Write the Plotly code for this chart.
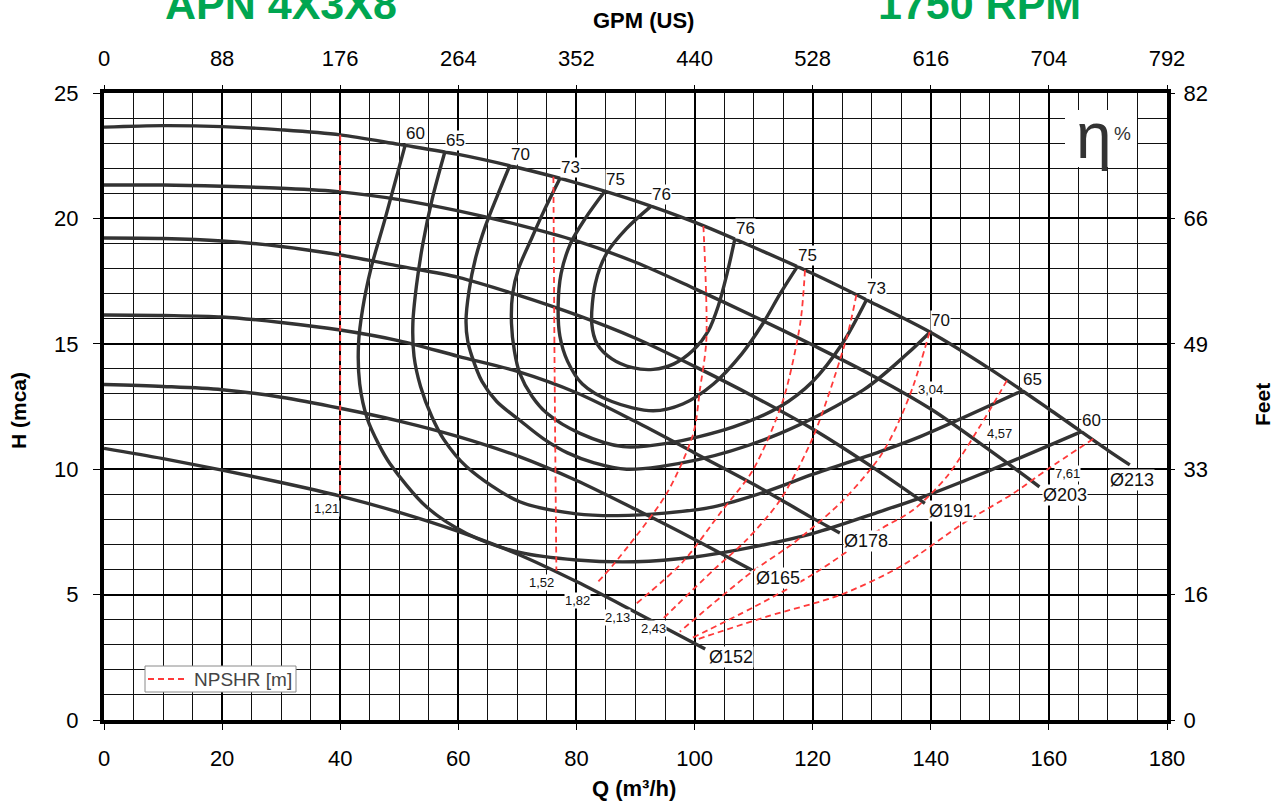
import plotly.graph_objects as go

# ---------------- data ----------------
Q_TICKS = [0, 20, 40, 60, 80, 100, 120, 140, 160, 180]
GPM_TICKTEXT = ["0", "88", "176", "264", "352", "440", "528", "616", "704", "792"]
H_TICKS = [0, 5, 10, 15, 20, 25]
FEET_TICKTEXT = ["0", "16", "33", "49", "66", "82"]

# impeller diameter curves (Q m3/h, H m)
D_NAMES = ["Ø213", "Ø203", "Ø191", "Ø178", "Ø165", "Ø152"]
Q_D213 = [0, 10, 20, 30, 40, 50, 60, 70, 80, 90, 100, 110, 120, 130, 140, 150, 160, 170, 173.7]
H_D213 = [23.64, 23.70, 23.66, 23.53, 23.33, 22.95, 22.55, 22.03, 21.42, 20.70, 19.85, 18.85, 17.80, 16.65, 15.45, 14.0, 12.4, 10.75, 10.17]
Q_D203 = [0, 10, 20, 30, 40, 50, 60, 70, 80, 90, 100, 110, 120, 130, 140, 150, 158.4]
H_D203 = [21.33, 21.33, 21.28, 21.2, 21.06, 20.75, 20.3, 19.75, 19.1, 18.25, 17.2, 16.1, 14.95, 13.75, 12.4, 10.75, 9.30]
Q_D191 = [0, 10, 20, 30, 40, 50, 60, 70, 80, 90, 100, 110, 120, 130, 139]
H_D191 = [19.22, 19.2, 19.1, 18.88, 18.54, 18.1, 17.65, 16.95, 16.15, 15.22, 14.1, 12.9, 11.6, 10.1, 8.64]
Q_D178 = [0, 10, 20, 30, 40, 50, 60, 70, 80, 90, 100, 110, 120, 124.6]
H_D178 = [16.15, 16.13, 16.07, 15.85, 15.55, 15.12, 14.5, 13.9, 13.05, 11.9, 10.65, 9.4, 8.05, 7.46]
Q_D165 = [0, 10, 20, 30, 40, 50, 60, 70, 80, 90, 100, 109.7]
H_D165 = [13.38, 13.3, 13.17, 12.87, 12.43, 11.92, 11.3, 10.53, 9.55, 8.4, 7.2, 5.98]
Q_D152 = [0, 10, 20, 30, 40, 50, 60, 70, 80, 90, 101.8]
H_D152 = [10.83, 10.42, 9.96, 9.47, 8.93, 8.28, 7.52, 6.62, 5.52, 4.3, 2.83]

# iso-efficiency curves (%)
EFF_NAMES = ["60", "65", "70", "73", "75", "76"]
Q_E60 = [51.0, 47.5, 45.2, 43.8, 43.1, 43.3, 44.6, 46.5, 48.4, 54.6, 61.4, 70.4, 80.0, 90.0, 100.0, 110.0, 120.1, 131.4, 138.7, 150.0, 165.5]
H_E60 = [22.92, 19.9, 18.0, 16.4, 15.0, 13.4, 12.0, 11.0, 10.23, 8.5, 7.44, 6.68, 6.38, 6.31, 6.5, 6.9, 7.44, 8.31, 8.9, 9.95, 11.5]
Q_E65 = [57.7, 55.6, 54.0, 52.9, 52.3, 52.5, 53.6, 55.5, 57.5, 61.4, 70.4, 80.0, 87.0, 95.0, 103.2, 112.0, 120.1, 131.4, 138.2, 155.4]
H_E65 = [22.64, 20.8, 19.0, 17.3, 15.8, 14.5, 13.3, 12.1, 11.2, 10.1, 8.7, 8.22, 8.15, 8.25, 8.5, 9.1, 9.8, 10.7, 11.3, 13.12]
Q_E70 = [68.7, 66.6, 64.6, 62.9, 61.8, 61.3, 61.6, 62.3, 64.0, 66.5, 70.4, 74.5, 78.5, 83.0, 88.5, 100.4, 114.5, 128.6, 136.0, 139.9]
H_E70 = [22.1, 20.9, 19.7, 18.4, 17.1, 15.9, 15.1, 14.5, 13.5, 12.7, 11.95, 11.2, 10.65, 10.25, 10.0, 10.37, 11.43, 13.16, 14.6, 15.47]
Q_E73 = [77.2, 74.5, 72.4, 70.2, 69.2, 69.0, 69.5, 70.4, 72.5, 75.0, 80.6, 87.9, 95.3, 106.6, 114.5, 120.0, 125.0, 129.1]
H_E73 = [21.59, 20.3, 19.2, 18.0, 17.0, 15.82, 14.7, 13.82, 12.9, 12.23, 11.43, 10.9, 11.03, 11.69, 12.5, 13.5, 15.0, 16.75]
Q_E75 = [84.8, 81.5, 79.0, 77.4, 76.9, 77.2, 78.5, 81.0, 86.0, 93.0, 98.0, 103.2, 108.0, 111.6, 114.5, 117.4]
H_E75 = [21.08, 20.0, 19.0, 17.8, 16.5, 15.3, 14.3, 13.4, 12.7, 12.33, 12.6, 13.4, 14.6, 15.82, 17.0, 18.08]
Q_E76 = [92.6, 88.5, 85.1, 83.2, 82.6, 83.5, 86.0, 89.5, 93.0, 96.5, 99.8, 102.3, 104.0, 105.5, 106.8]
H_E76 = [20.48, 19.6, 18.6, 17.4, 15.8, 15.0, 14.4, 14.05, 13.98, 14.2, 14.75, 15.5, 16.5, 17.8, 19.15]

# NPSHR iso-lines (m)
NPSH_NAMES = ["1,21", "1,52", "1,82", "2,13", "2,43", "3,04", "4,57", "7,61"]
Q_N121 = [40.0, 40.0]
H_N121 = [23.33, 8.93]
Q_N152 = [76.1, 76.3, 76.6]
H_N152 = [21.66, 14.0, 5.95]
Q_N182 = [101.5, 102.0, 100.9, 99.8, 95.3, 86.2, 83.4]
H_N182 = [19.7, 15.15, 13.16, 11.43, 9.04, 6.18, 5.45]
Q_N213 = [118.7, 117.9, 115.0, 109.9, 104.5, 98.0, 90.2]
H_N213 = [17.94, 15.82, 12.76, 9.97, 8.3, 6.3, 4.65]
Q_N243 = [127.4, 125.8, 120.1, 114.5, 108.8, 103.2, 94.7]
H_N243 = [16.95, 15.28, 11.3, 8.77, 7.18, 5.98, 4.05]
Q_N304 = [139.8, 137.0, 134.2, 131.4, 125.2, 117.0, 109.4, 97.5]
H_N304 = [15.47, 13.3, 11.7, 10.5, 8.77, 7.1, 5.85, 3.52]
Q_N457 = [152.9, 148.3, 142.7, 137.0, 131.4, 120.0, 110.0, 99.5]
H_N457 = [13.54, 11.7, 9.7, 8.37, 7.6, 5.8, 4.5, 3.26]
Q_N761 = [167.5, 159.6, 154.0, 145.5, 134.8, 124.6, 112.2, 100.1]
H_N761 = [11.2, 9.97, 9.04, 7.84, 6.11, 4.98, 4.12, 3.19]
# NPSHR label anchor positions (Q, H)
NPSH_LABEL_Q = [37.6, 74.0, 80.1, 87.0, 93.1, 139.9, 151.7, 163.2]
NPSH_LABEL_H = [8.45, 5.50, 4.78, 4.07, 3.63, 13.16, 11.44, 9.81]

D_CURVES = [(Q_D213, H_D213), (Q_D203, H_D203), (Q_D191, H_D191),
            (Q_D178, H_D178), (Q_D165, H_D165), (Q_D152, H_D152)]
E_CURVES = [(Q_E60, H_E60), (Q_E65, H_E65), (Q_E70, H_E70),
            (Q_E73, H_E73), (Q_E75, H_E75), (Q_E76, H_E76)]
N_CURVES = [(Q_N121, H_N121), (Q_N152, H_N152), (Q_N182, H_N182), (Q_N213, H_N213),
            (Q_N243, H_N243), (Q_N304, H_N304), (Q_N457, H_N457), (Q_N761, H_N761)]

# ---------------- styling ----------------
FONT = "Liberation Sans, Arial, Helvetica, sans-serif"
CURVE = "#333333"
RED = "#FF3A3A"
GREEN = "#00A651"

L, R, T, B = 104, 111, 93, 81
W, H = 1278, 801
PW, PH = W - L - R, H - T - B


def px_x(px):
    return (px - L) / PW


def px_y(py):
    return (H - B - py) / PH


fig = go.Figure()

for q, h in D_CURVES:
    fig.add_trace(go.Scatter(x=q, y=h, mode="lines", showlegend=False, hoverinfo="skip",
                             line=dict(color=CURVE, width=3.4, shape="spline", smoothing=0.9)))
for q, h in E_CURVES:
    fig.add_trace(go.Scatter(x=q, y=h, mode="lines", showlegend=False, hoverinfo="skip",
                             line=dict(color=CURVE, width=3.4, shape="spline", smoothing=0.9)))
for i, (q, h) in enumerate(N_CURVES):
    fig.add_trace(go.Scatter(x=q, y=h, mode="lines", name="NPSHR [m]", showlegend=False,
                             hoverinfo="skip",
                             line=dict(color=RED, width=1.8, dash="6px,4px", shape="spline", smoothing=0.8)))

# dummy trace to activate secondary axes
fig.add_trace(go.Scatter(x=[0], y=[0], xaxis="x2", yaxis="y2", mode="markers",
                         marker=dict(opacity=0), showlegend=False, hoverinfo="skip"))

ann = []
# efficiency labels at both ends of each iso-efficiency curve
for name, (q, h) in zip(EFF_NAMES, E_CURVES):
    for qq, hh in ((q[0], h[0]), (q[-1], h[-1])):
        ann.append(dict(x=qq, y=hh, xref="x", yref="y", text=name, showarrow=False,
                        xanchor="left", yanchor="bottom", xshift=0, yshift=1,
                        font=dict(size=17, color="#111"), bgcolor="white", borderpad=0))
# diameter labels at curve ends
for name, (q, h) in zip(D_NAMES, D_CURVES):
    if name == "Ø213":
        ann.append(dict(x=q[-1], y=h[-1], text=name, showarrow=False, xanchor="center",
                        yanchor="middle", xshift=2, yshift=-15,
                        font=dict(size=18, color="#111"), bgcolor="white", borderpad=0))
    else:
        ann.append(dict(x=q[-1], y=h[-1], text=name, showarrow=False, xanchor="left",
                        yanchor="middle", xshift=3, yshift=-8,
                        font=dict(size=18, color="#111"), bgcolor="white", borderpad=0))
# NPSHR labels
for name, qq, hh in zip(NPSH_NAMES, NPSH_LABEL_Q, NPSH_LABEL_H):
    ann.append(dict(x=qq, y=hh, text=name, showarrow=False, xanchor="center", yanchor="middle",
                    font=dict(size=13, color="#111"), bgcolor="white", borderpad=0))

# titles and decorations
ann += [
    dict(x=px_x(281), y=px_y(4), xref="paper", yref="paper", text="<b>APN 4X3X8</b>",
         showarrow=False, xanchor="center", yanchor="middle", font=dict(size=43, color=GREEN)),
    dict(x=px_x(979), y=px_y(4), xref="paper", yref="paper", text="<b>1750 RPM</b>",
         showarrow=False, xanchor="center", yanchor="middle", font=dict(size=43, color=GREEN)),
    dict(x=px_x(643), y=px_y(20), xref="paper", yref="paper", text="<b>GPM (US)</b>",
         showarrow=False, xanchor="center", yanchor="middle", font=dict(size=22, color="black")),
    dict(x=px_x(634), y=px_y(788), xref="paper", yref="paper", text="<b>Q (m³/h)</b>",
         showarrow=False, xanchor="center", yanchor="middle", font=dict(size=22, color="black")),
    dict(x=px_x(18), y=px_y(411), xref="paper", yref="paper", text="<b>H (mca)</b>",
         showarrow=False, xanchor="center", yanchor="middle", textangle=-90,
         font=dict(size=21, color="black")),
    dict(x=px_x(1262), y=px_y(405), xref="paper", yref="paper", text="<b>Feet</b>",
         showarrow=False, xanchor="center", yanchor="middle", textangle=-90,
         font=dict(size=21, color="black")),
    dict(x=px_x(1094), y=px_y(136), xref="paper", yref="paper", text="η",
         showarrow=False, xanchor="center", yanchor="middle", font=dict(size=64, color="#333")),
    dict(x=px_x(1122), y=px_y(133), xref="paper", yref="paper", text="%",
         showarrow=False, xanchor="center", yanchor="middle", font=dict(size=19, color="#333")),
    # legend text
    dict(x=px_x(192), y=px_y(679), xref="paper", yref="paper", text="NPSHR [m]",
         showarrow=False, xanchor="left", yanchor="middle", font=dict(size=19, color="#444")),
]

shapes = [
    dict(type="rect", xref="paper", yref="paper", x0=px_x(1065), x1=px_x(1137),
         y0=px_y(167), y1=px_y(110), fillcolor="white", line=dict(width=0), layer="above"),
    # legend box and sample
    dict(type="rect", xref="paper", yref="paper", x0=px_x(145), x1=px_x(296),
         y0=px_y(692), y1=px_y(666), fillcolor="white",
         line=dict(color="#8a8a8a", width=1), layer="above"),
    dict(type="line", xref="paper", yref="paper", x0=px_x(148), x1=px_x(187),
         y0=px_y(679), y1=px_y(679), line=dict(color=RED, width=1.8, dash="6px,4px"),
         layer="above"),
]

axis_common = dict(showline=False, zeroline=False, ticks="outside", ticklen=7, tickwidth=1,
                   tickcolor="black", tickfont=dict(size=22, color="black"))

fig.update_layout(
    width=W, height=H, margin=dict(l=L, r=R, t=T, b=B),
    plot_bgcolor="white", paper_bgcolor="white",
    font=dict(family=FONT, size=22, color="black"),
    annotations=ann, shapes=shapes,
    showlegend=False,
    xaxis=dict(range=[0, 180], tick0=0, dtick=20, showgrid=True, gridcolor="black", gridwidth=2,
               minor=dict(dtick=5, showgrid=True, gridcolor="#111", gridwidth=1, ticks=""),
               showline=True, linecolor="black", linewidth=4, mirror=True, zeroline=False,
               ticks="outside", ticklen=6, tickcolor="black", ticklabelstandoff=10,
               tickfont=dict(size=22)),
    yaxis=dict(range=[0, 25], tick0=0, dtick=5, showgrid=True, gridcolor="black", gridwidth=2,
               minor=dict(dtick=1, showgrid=True, gridcolor="#111", gridwidth=1, ticks=""),
               showline=True, linecolor="black", linewidth=4, mirror=True, zeroline=False,
               ticks="outside", ticklen=7, tickcolor="black", ticklabelstandoff=10,
               tickfont=dict(size=22)),
    xaxis2=dict(overlaying="x", side="top", range=[0, 180], tickmode="array",
                tickvals=Q_TICKS, ticktext=GPM_TICKTEXT, showgrid=False, ticklabelstandoff=10,
                **axis_common),
    yaxis2=dict(overlaying="y", side="right", range=[0, 25], tickmode="array",
                tickvals=H_TICKS, ticktext=FEET_TICKTEXT, showgrid=False, ticklabelstandoff=4,
                **axis_common),
)

fig.write_html("out.html", config={"displayModeBar": False},
               post_script="document.body.style.margin='0';")
